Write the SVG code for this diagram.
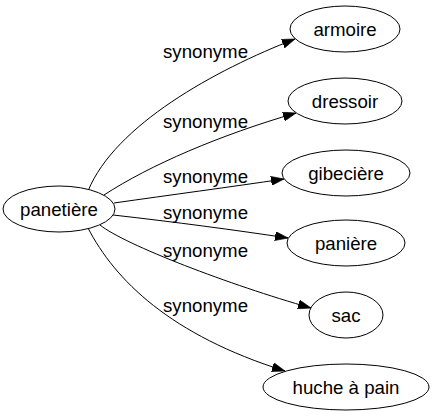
<svg xmlns="http://www.w3.org/2000/svg" width="432" height="419" viewBox="0 0 432 419">
<style>
  .node ellipse { fill: #fff; stroke: #000; stroke-width: 1; }
  .node text { font-family: "Liberation Sans", Arial, sans-serif; font-size: 18.67px; text-anchor: middle; fill: #000; }
  .edges path { fill: none; stroke: #000; stroke-width: 1; marker-end: url(#arrow); }
  .edges text { font-family: "Liberation Sans", Arial, sans-serif; font-size: 18.67px; text-anchor: middle; fill: #000; }
</style>
<defs>
  <marker id="arrow" viewBox="0 0 10 7" refX="10" refY="3.5" markerUnits="userSpaceOnUse" markerWidth="13" markerHeight="9.1" orient="auto">
    <path d="M0,0 L10,3.5 L0,7 z" fill="#000" stroke="#000" stroke-width="0.5"/>
  </marker>
</defs>
<rect width="432" height="419" fill="#fff"/>
<g id="connectors" class="edges">
  <path d="M88,191 C115,125 215,70 295,39"/>
  <text x="205.5" y="58">synonyme</text>
  <path d="M104,195 C150,165 220,135 296,113"/>
  <text x="205.5" y="128">synonyme</text>
  <path d="M114,203 C170,195 230,187 284,179"/>
  <text x="205.5" y="183">synonyme</text>
  <path d="M113,215 C175,222 235,230 288,238"/>
  <text x="205.5" y="219">synonyme</text>
  <path d="M100,225 C125,245 230,285 311,308"/>
  <text x="205.5" y="257">synonyme</text>
  <path d="M88,228 C115,280 170,335 285,371"/>
  <text x="205.5" y="312">synonyme</text>
</g>
<g id="node-panetiere" class="node">
  <ellipse cx="59" cy="209" rx="56" ry="23"/>
  <text x="59" y="215.5">panetière</text>
</g>
<g id="node-armoire" class="node">
  <ellipse cx="345" cy="29" rx="55" ry="23"/>
  <text x="345" y="35.5">armoire</text>
</g>
<g id="node-dressoir" class="node">
  <ellipse cx="345" cy="101" rx="57" ry="23"/>
  <text x="345" y="107.5">dressoir</text>
</g>
<g id="node-gibeciere" class="node">
  <ellipse cx="346" cy="173" rx="64" ry="23"/>
  <text x="346" y="179.5">gibecière</text>
</g>
<g id="node-paniere" class="node">
  <ellipse cx="346" cy="243" rx="59" ry="23"/>
  <text x="346" y="249.5">panière</text>
</g>
<g id="node-sac" class="node">
  <ellipse cx="346" cy="315" rx="37" ry="23"/>
  <text x="346" y="321.5">sac</text>
</g>
<g id="node-huche" class="node">
  <ellipse cx="346" cy="387" rx="83" ry="23"/>
  <text x="346" y="393.5">huche à pain</text>
</g>
</svg>
